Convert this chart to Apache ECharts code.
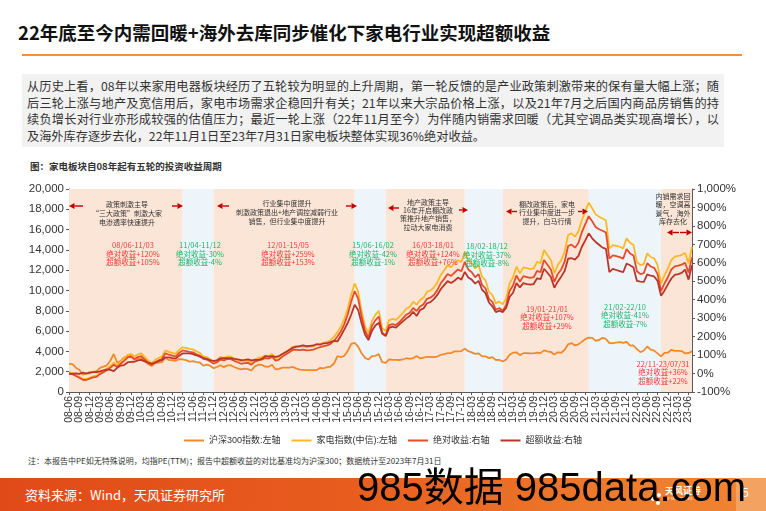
<!DOCTYPE html>
<html>
<head>
<meta charset="utf-8">
<script src="https://cdn.jsdelivr.net/npm/echarts@6/dist/echarts.min.js"></script>
<style>
  html, body { margin:0; padding:0; }
  body { width:766px; height:511px; position:relative; overflow:hidden; background:#fff;
         font-family:'Liberation Sans', Arial, 'Noto Sans CJK SC', sans-serif; }
  .abs { position:absolute; }
  #title { left:18px; top:19px; font-size:18.5px; font-weight:bold; color:#111; line-height:26px;
           font-family:'Noto Sans CJK SC','Liberation Sans',sans-serif; white-space:nowrap; }
  #rule { left:22px; top:54px; width:720px; height:2px; background:#F0913A; }
  #box { left:22px; top:74px; width:702px; height:73px; background:#F2F2F2; box-sizing:border-box;
         padding:4px 5px 0 5px; font-size:12.2px; line-height:16.6px; color:#333;
         font-family:'Noto Sans CJK SC','Liberation Sans',sans-serif; }
  #box div { white-space:nowrap; }
  #box .j { text-align:justify; text-align-last:justify; white-space:normal; }
  #cap { left:30px; top:159px; font-size:9.5px; font-weight:bold; color:#333; white-space:nowrap;
         font-family:'Noto Sans CJK SC',sans-serif; }
  #note { left:28px; top:455px; font-size:8px; color:#333; white-space:nowrap;
          font-family:'Noto Sans CJK SC','Liberation Sans',sans-serif; }
  #foot { left:0; top:478px; width:766px; height:33px;
          background:linear-gradient(90deg,#E04A19 0%,#E85C1E 45%,#EE7A2C 80%,#F08633 100%); }
  #footR { left:736px; top:478px; width:30px; height:33px; background:#F4A262; }
  #src { left:25px; top:485px; font-size:13px; color:#fff; white-space:nowrap;
         font-family:'Noto Sans CJK SC','Liberation Sans',sans-serif; }
  #logo { left:665px; top:486px; color:#fff; font-size:9px; font-weight:bold; line-height:10px;
          font-family:'Noto Sans CJK SC',sans-serif; }
  #logo small { display:block; font-size:4px; font-weight:normal; line-height:5px; }
  .dot { position:absolute; width:4px; height:4px; border-radius:2px; background:#fff; }
  #pg { left:742px; top:486px; color:#fff; font-size:12px; }
  #wm { left:357px; top:463px; font-size:40px; color:#000; white-space:nowrap; line-height:48px;
        font-family:'Liberation Sans','Noto Sans CJK SC',sans-serif; z-index:5; }
  #chart { left:0; top:0; width:766px; height:511px; z-index:2; }
</style>
</head>
<body>
<div id="title" class="abs">22年底至今内需回暖+海外去库同步催化下家电行业实现超额收益</div>
<div id="rule" class="abs"></div>
<div id="box" class="abs">
  <div class="j">从历史上看，08年以来家用电器板块经历了五轮较为明显的上升周期，第一轮反馈的是产业政策刺激带来的保有量大幅上涨；随</div>
  <div class="j">后三轮上涨与地产及宽信用后，家电市场需求企稳回升有关；21年以来大宗品价格上涨，以及21年7月之后国内商品房销售的持</div>
  <div class="j">续负增长对行业亦形成较强的估值压力；最近一轮上涨（22年11月至今）为伴随内销需求回暖（尤其空调品类实现高增长），以</div>
  <div>及海外库存逐步去化，22年11月1日至23年7月31日家电板块整体实现36%绝对收益。</div>
</div>
<div id="cap" class="abs">图：家电板块自08年起有五轮的投资收益周期</div>
<div id="note" class="abs">注：本报告中PE如无特殊说明，均指PE(TTM)；报告中超额收益的对比基准均为沪深300；数据统计至2023年7月31日</div>
<div id="foot" class="abs"></div>
<div id="footR" class="abs"></div>
<div id="src" class="abs">资料来源：Wind，天风证券研究所</div>
<div class="dot" style="left:652px;top:488px"></div>
<div class="dot" style="left:657px;top:493px"></div>
<div class="dot" style="left:651px;top:497px"></div>
<div class="dot" style="left:656px;top:501px"></div>
<div id="logo" class="abs">天风证券<small>TF SECURITIES</small></div>
<div id="pg" class="abs">5</div>
<div id="chart" class="abs"></div>
<div id="wm" class="abs">985数据 985data.com</div>

<script>
// ---------------- data ----------------
const START_YEAR = 2008, START_MONTH = 6, N_MONTHS = 182;   // 2008-06 ... 2023-07
const months = [];
for (let k = 0; k < N_MONTHS; k++) {
  const m = START_MONTH - 1 + k, y = START_YEAR + Math.floor(m / 12), mm = m % 12 + 1;
  months.push(String(y).slice(2) + '-' + (mm < 10 ? '0' : '') + mm);
}
const LABEL_STEP = 3; // quarterly tick labels 08-06 ... 23-06

const seriesNames = ['沪深300指数:左轴', '家电指数(中信):左轴', '绝对收益:右轴', '超额收益:右轴'];

// 沪深300 (left axis)
const csi300 = [
2780,2740,2390,2200,1700,1850,1820,
1975,2050,2380,2500,2630,3080,3746,2900,3050,3400,3530,3575,
3200,3280,3346,3070,2760,2560,2870,2900,2935,3380,3155,3128,
3077,3240,3223,3147,2996,3044,2937,2908,2604,2695,2591,2346,
2464,2634,2455,2627,2623,2462,2333,2240,2293,2254,2139,2523,
2688,2673,2495,2487,2677,2224,2272,2393,2409,2400,2474,2331,
2203,2178,2146,2158,2160,2165,2382,2338,2450,2508,2808,3533,
3434,3572,4051,4749,4841,4473,3816,3366,3203,3534,3566,3731,
2946,2877,3218,3156,3169,3154,3204,3327,3253,3336,3538,3310,
3387,3452,3456,3439,3492,3666,3737,3822,3837,4006,4006,4031,
4275,4023,3899,3756,3802,3510,3517,3335,3438,3153,3173,3011,
3202,3670,3872,3913,3630,3826,3836,3799,3814,3887,3828,4097,
4003,3940,3686,3912,3868,4164,4695,4816,4588,4695,4960,5211,
5352,5336,5048,5123,5331,5224,4812,4805,4866,4909,4833,4940,
4564,4581,4223,3921,4091,4485,4171,4079,3804,3508,3854,3871,
4157,4061,4051,4029,3798,3842,4008];

// 家电指数(中信) (left axis)
const homeAppliance = [
1940,1900,1700,1510,1300,1280,1400,
1550,1600,1900,2100,2300,2560,2900,2650,2990,3300,3650,3740,
3500,3700,3810,3450,3100,2850,3150,3350,3500,4100,3950,3850,
3750,4150,4400,4350,4250,4200,4000,3850,3500,3450,3250,2990,
3150,3450,3350,3500,3490,3300,3150,3000,3060,3100,2890,3220,
3350,3430,3600,3550,3740,3320,3450,3750,3970,4200,4460,4500,
4450,4500,4400,4450,4500,4630,4750,4850,4960,5100,5450,5900,
6430,7200,8240,9600,10700,9900,8000,6500,5800,7000,7600,8000,
6300,6000,7090,7200,7100,7420,7800,8200,8400,8900,8600,9060,
9300,9880,10000,10300,10800,11520,12000,12500,12300,12660,13000,12800,
13800,13000,12700,12170,12500,11360,11000,9880,9550,8730,8900,8630,
9200,10700,11300,12340,11690,12280,12200,12100,12170,12830,12700,13990,
13500,13000,11690,12500,13000,13820,15470,15630,15300,15800,16940,17800,
18650,18100,17500,17270,17100,16900,14150,14480,14400,14310,14150,15140,
14700,14480,12800,12510,12600,13660,13300,13170,12510,10700,11500,12180,
13000,13330,13400,13500,13700,12670,14310];

// 绝对收益 % (right axis)
const absReturn = [
-1,-3,-13,-23,-34,-35,-28,
-21,-18,-3,7,18,31,48,35,53,69,87,91,
79,89,95,76,58,46,61,71,79,110,102,97,
92,112,125,122,117,115,104,97,79,76,66,53,
61,76,71,79,78,69,61,53,56,58,48,65,
71,75,84,81,91,70,76,92,103,115,128,130,
127,130,125,127,130,137,143,148,153,161,178,201,
229,268,321,391,447,406,309,232,196,258,288,309,
222,207,262,268,263,279,299,319,329,355,339,363,
375,405,411,426,452,489,513,539,529,547,564,554,
605,564,549,522,539,480,462,405,388,346,355,341,
370,447,477,531,497,528,523,518,522,556,549,615,
590,564,497,539,564,606,691,699,682,707,766,810,
853,825,794,782,774,764,623,640,636,631,623,674,
651,640,554,539,544,598,580,573,539,447,488,522,
564,581,585,590,600,547,631];

// 超额收益 % (right axis)
const excessReturn = [
-1,-2,1,-2,5,-1,6,
8,8,12,17,23,20,13,31,43,46,60,63,
64,71,74,66,59,54,58,67,73,88,88,84,
81,96,109,109,109,105,99,92,85,79,73,68,
72,82,83,84,84,80,77,73,74,77,71,74,
74,79,94,92,95,90,95,106,116,128,139,146,
148,152,148,150,152,159,157,164,165,170,177,174,
205,239,275,320,373,345,272,211,181,231,260,275,
216,203,247,254,249,266,283,299,312,335,312,344,
353,381,387,403,426,457,479,501,491,503,520,509,
551,520,509,487,502,454,436,385,364,333,341,333,
355,415,438,490,467,490,485,482,485,516,511,568,
546,523,465,498,525,556,622,625,617,638,687,722,
760,733,713,698,682,676,550,567,561,555,549,596,
587,575,502,498,497,537,530,526,502,421,449,483,
515,535,539,545,563,509,587];

// cycle periods (shaded): [from, to, kind]
const periods = [
  ['08-06','11-03','up'], ['11-03','11-12','down'], ['11-12','15-05','up'],
  ['15-05','16-02','down'], ['16-02','18-01','up'], ['18-01','18-12','down'],
  ['18-12','21-01','up'], ['21-01','22-10','down'], ['22-10','23-07','up']
];

// ---------------- styles ----------------
const FONT = "'Liberation Sans', Arial, 'Noto Sans CJK SC', sans-serif";
const CJK = "'Noto Sans CJK SC', 'Liberation Sans', sans-serif";
const COLORS = ['#F28A2A', '#FDB924', '#E84B2B', '#B9352A'];
const SHADE = { up: '#FBE5D6', down: '#EDF5FA' };
const RED = '#F23A3A', GREEN = '#1DB56A', DARK = '#333333', ARROW = '#C00000';

// annotation texts: [centerX, firstLineY, lineHeight, fontSize, color, lines]
const notes = [
  [127, 204, 9, 7, DARK, ['政策刺激主导', '“三大政策”刺激大家', '电渗透率快速提升']],
  [133, 245, 8.7, 7.5, RED, ['08/06-11/03', '绝对收益+120%', '超额收益+105%']],
  [200, 245, 8.7, 7.5, GREEN, ['11/04-11/12', '绝对收益-30%', '超额收益-4%']],
  [287, 203, 9, 7, DARK, ['行业集中度提升', '刺激政策退出+地产调控减弱行业', '销售，但行业集中度提升']],
  [288, 245, 8.7, 7.5, RED, ['12/01-15/05', '绝对收益+259%', '超额收益+153%']],
  [373, 245, 8.7, 7.5, GREEN, ['15/06-16/02', '绝对收益-42%', '超额收益-1%']],
  [428, 202, 8.4, 7, DARK, ['地产政策主导', '16年开启棚改政', '策推升地产销售，', '拉动大家电消费']],
  [433, 245, 8.7, 7.5, RED, ['16/03-18/01', '绝对收益+124%', '超额收益+76%']],
  [487, 246, 8.7, 7.5, GREEN, ['18/02-18/12', '绝对收益-37%', '超额收益-8%']],
  [547, 204, 8.6, 7, DARK, ['棚改政策后，家电', '行业集中度进一步', '提升，白马行情']],
  [547, 309, 8.6, 7.5, RED, ['19/01-21/01', '绝对收益+107%', '超额收益+29%']],
  [625, 307, 8.6, 7.5, GREEN, ['21/02-22/10', '绝对收益-41%', '超额收益-7%']],
  [673, 196, 8.5, 7, DARK, ['内销需求回', '暖，空调高', '景气，海外', '库存去化']],
  [663, 364, 8.4, 7.5, RED, ['22/11-23/07/31', '绝对收益+36%', '超额收益+22%']]
];
// arrows: [tailX, headX, y]
const arrows = [
  [83, 69, 206], [172, 183, 206], [229, 217, 206], [346, 357, 206],
  [399, 388, 208], [459, 468, 210], [517, 506, 211.5], [578, 588, 211.5],
  [679, 667, 232.5], [680, 692, 232.5]
];

// ---------------- chart ----------------
const chart = echarts.init(document.getElementById('chart'), null, { renderer: 'canvas' });

const graphics = [];
notes.forEach(([cx, y0, lh, fs, color, lines]) => {
  graphics.push({
    type: 'text', x: cx, y: y0 - lh / 2, z: 10,
    style: { text: lines.join('\n'), fill: color, fontSize: fs, fontFamily: CJK,
             align: 'center', verticalAlign: 'top', lineHeight: lh }
  });
});
arrows.forEach(([t, h, y]) => {
  const dir = h > t ? 1 : -1, L = 5.5, W = 3;
  graphics.push({ type: 'line', z: 10, shape: { x1: t, y1: y, x2: h - dir * L, y2: y },
                  style: { stroke: ARROW, lineWidth: 1.4 } });
  graphics.push({ type: 'polygon', z: 10, shape: { points: [[h, y], [h - dir * L, y - W], [h - dir * L, y + W]] },
                  style: { fill: ARROW } });
});

const axisLineStyle = { color: '#595959', width: 1 };
const values = [csi300, homeAppliance, absReturn, excessReturn];
const isLabelIdx = (idx) => idx % LABEL_STEP === 0;

const option = {
  animation: false,
  backgroundColor: 'transparent',
  textStyle: { fontFamily: FONT },
  grid: { left: 69, top: 189, width: 623, height: 203, containLabel: false },
  legend: {
    left: 'center', top: 431, icon: 'rect', itemWidth: 20, itemHeight: 2, itemGap: 11,
    textStyle: { fontSize: 9, color: '#333', fontFamily: FONT },
    data: seriesNames
  },
  xAxis: {
    type: 'category', data: months, boundaryGap: false,
    axisLine: { lineStyle: axisLineStyle },
    axisTick: { show: true, interval: isLabelIdx, length: 3, lineStyle: axisLineStyle },
    axisLabel: { interval: isLabelIdx, rotate: 90, fontSize: 10.5, lineHeight: 8, color: '#333', margin: 4,
                 showMinLabel: true, showMaxLabel: true, hideOverlap: false },
    splitLine: { show: false }
  },
  yAxis: [
    { type: 'value', min: 0, max: 20000, interval: 2000, position: 'left',
      axisLine: { show: true, lineStyle: axisLineStyle },
      axisTick: { show: true, length: 3, lineStyle: axisLineStyle },
      splitLine: { show: false },
      axisLabel: { fontSize: 11.5, color: '#333', margin: 5,
                   formatter: v => v.toLocaleString('en-US') } },
    { type: 'value', min: -100, max: 1000, interval: 100, position: 'right',
      axisLine: { show: true, lineStyle: axisLineStyle },
      axisTick: { show: true, length: 3, lineStyle: axisLineStyle },
      splitLine: { show: false },
      axisLabel: { fontSize: 11.5, color: '#333', margin: 5, formatter: '{value}%' } }
  ],
  series: seriesNames.map((name, k) => ({
    name, type: 'line', yAxisIndex: k < 2 ? 0 : 1, data: values[k],
    showSymbol: false, symbol: 'none', z: 3,
    lineStyle: { color: COLORS[k], width: 1.8 }, itemStyle: { color: COLORS[k] },
    markArea: k === 0 ? {
      silent: true, z: 1,
      data: periods.map(([a, b, kind]) => [
        { xAxis: a, itemStyle: { color: SHADE[kind] } }, { xAxis: b }
      ])
    } : undefined
  })),
  graphic: graphics
};
chart.setOption(option);
</script>
</body>
</html>
